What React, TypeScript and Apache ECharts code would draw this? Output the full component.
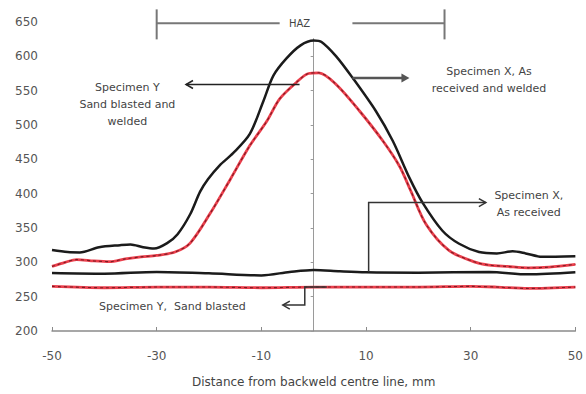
import React, { useEffect, useRef } from 'react';
import * as echarts from 'echarts';

// Axis ticks
const xTicks = [-50, -30, -10, 10, 30, 50];
const yMin = 200;
const yMax = 650;
const yStep = 50;

// Specimen X, As received and welded (black, upper)
const xWelded: [number, number][] = [
  [-50, 318], [-47, 315], [-44.7, 314.5], [-41, 322], [-37, 325], [-35, 326], [-32.6, 322],
  [-30.5, 320], [-28, 328], [-26, 341], [-23.6, 370], [-21.7, 403], [-20.2, 421], [-18, 441],
  [-15.4, 459], [-12.2, 487], [-9.6, 535], [-7.7, 572], [-5.2, 597], [-2.5, 616], [0, 623],
  [1.5, 621], [4.3, 600], [7.5, 568], [11.9, 520], [15.1, 477], [18.3, 423], [20.8, 387],
  [24.6, 346], [27.8, 327], [31.6, 315], [35, 313], [38, 316], [40.5, 313], [43.6, 308], [50, 309],
];

// Specimen Y, Sand blasted and welded (red dashed, upper)
const yWelded: [number, number][] = [
  [-50, 294], [-47.5, 300], [-45.3, 304], [-42, 302], [-39, 301], [-36, 305], [-33, 308],
  [-30, 310], [-26.5, 315], [-23.6, 328], [-19.8, 371], [-16, 420], [-12.2, 470], [-9, 505],
  [-6.5, 538], [-3.3, 562], [-1, 575], [1, 576], [4.3, 559], [8.8, 520], [13.2, 477],
  [16.4, 440], [18.5, 405], [21.5, 355], [25.9, 317], [31, 300], [33.5, 296], [37, 294],
  [41, 292], [45, 293], [50, 297],
];

// Specimen X, As received (black, lower)
const xReceived: [number, number][] = [
  [-50, 284.5], [-40, 283.5], [-30, 286], [-20, 284], [-10, 281], [-4.6, 286], [0, 289],
  [5, 287], [10, 285.5], [20, 285], [33.5, 286], [41, 282.5], [50, 285.5],
];

// Specimen Y, Sand blasted (red dashed, lower)
const yBlasted: [number, number][] = [
  [-50, 265], [-40, 263], [-30, 264], [-20, 264], [-10, 263], [0, 264], [10, 264],
  [20, 264], [30, 265], [35, 264], [41, 262], [50, 264],
];

const FONT = '"DejaVu Sans", sans-serif';

export default function App() {
  const ref = useRef<HTMLDivElement>(null);

  useEffect(() => {
    if (!ref.current) return;
    const chart = echarts.init(ref.current, null, { renderer: 'svg' });

    const black = (name: string, data: [number, number][]) => ({
      name, type: 'line', data, smooth: 0.3, symbol: 'none',
      lineStyle: { color: '#1b1b1b', width: 2.5 }, z: 3,
    });
    const redBase = (name: string, data: [number, number][]) => ({
      name, type: 'line', data, smooth: 0.3, symbol: 'none',
      lineStyle: { color: '#ea3f4c', width: 2.8 }, z: 2,
    });
    const redDash = (name: string, data: [number, number][]) => ({
      name, type: 'line', data, smooth: 0.3, symbol: 'none',
      lineStyle: { color: '#7d1a22', width: 1.1, type: [3, 3] }, z: 4,
    });

    const option: any = {
      animation: false,
      grid: { left: 52, right: 10, top: 22, bottom: 63 },
      xAxis: {
        type: 'value', min: -50, max: 50,
        axisLine: { onZero: false, lineStyle: { color: '#8a8a8a', width: 1.5 } },
        axisTick: { inside: true, length: 4, customValues: xTicks, lineStyle: { color: '#8a8a8a' } },
        axisLabel: { customValues: xTicks, color: '#555', fontSize: 12, fontFamily: FONT, margin: 19 },
        splitLine: { show: false },
        name: 'Distance from backweld centre line, mm',
        nameLocation: 'middle', nameGap: 45,
        nameTextStyle: { color: '#444', fontSize: 12, fontFamily: FONT },
      },
      yAxis: [
        {
          type: 'value', min: yMin, max: yMax, interval: yStep,
          axisLine: { show: false, onZero: false },
          axisTick: { show: false },
          axisLabel: { color: '#555', fontSize: 12, fontFamily: FONT, margin: 14 },
          splitLine: { show: false },
        },
        {
          type: 'value', min: yMin, max: yMax, interval: yStep, position: 'left',
          axisLine: { show: true, onZero: true, lineStyle: { color: '#9a9a9a', width: 1 } },
          axisTick: { show: true, length: 3, lineStyle: { color: '#9a9a9a' } },
          axisLabel: { show: false },
          splitLine: { show: false },
        },
      ],
      series: [
        black('Specimen X, As received and welded', xWelded),
        redBase('Specimen Y, Sand blasted and welded', yWelded),
        redDash('Specimen Y, Sand blasted and welded ', yWelded),
        black('Specimen X, As received', xReceived),
        redBase('Specimen Y, Sand blasted', yBlasted),
        redDash('Specimen Y, Sand blasted ', yBlasted),
      ],
    };
    chart.setOption(option);

    const p = (x: number, v: number) => chart.convertToPixel({ gridIndex: 0 }, [x, v]) as number[];
    const els: any[] = [];
    const line = (a: number[], b: number[], color: string, width: number) =>
      els.push({ type: 'line', z: 100, shape: { x1: a[0], y1: a[1], x2: b[0], y2: b[1] }, style: { stroke: color, lineWidth: width } });
    const poly = (pts: number[][], color: string, width: number) =>
      els.push({ type: 'polyline', z: 100, shape: { points: pts }, style: { stroke: color, lineWidth: width, fill: null } });
    const chevron = (h: number[], dir: number, color: string, width: number) =>
      poly([[h[0] - dir * 7, h[1] - 4], h, [h[0] - dir * 7, h[1] + 4]], color, width);
    const text = (t: string, c: number[], size = 11) =>
      els.push({ type: 'text', z: 101, x: c[0], y: c[1], style: { text: t, fill: '#444', fontSize: size, fontFamily: FONT, align: 'center', verticalAlign: 'middle', lineHeight: 17 } });

    // HAZ bracket
    const hazL = p(-30, 648), hazR = p(25, 648);
    const gapL = p(-6.5, 648), gapR = p(7.4, 648);
    els.push({ type: 'rect', z: 99, shape: { x: gapL[0], y: hazL[1] - 14, width: gapR[0] - gapL[0], height: 29 }, style: { fill: '#fff' } });
    line([hazL[0], hazL[1] - 14], [hazL[0], hazL[1] + 16], '#777', 2);
    line([hazR[0], hazR[1] - 14], [hazR[0], hazR[1] + 16], '#777', 2);
    line(hazL, gapL, '#777', 2);
    line(gapR, hazR, '#777', 2);
    text('HAZ', p(-2.7, 648), 10);

    // Specimen Y, sand blasted and welded
    const a1s = p(-2.7, 559), a1e = p(-24.4, 559);
    line(a1s, a1e, '#222', 1.5);
    chevron(a1e, -1, '#222', 1.5);
    text('Specimen Y\nSand blasted and\nwelded', p(-35.6, 530));

    // Specimen X, as received and welded
    const a2s = p(7.4, 568.5), a2e = p(18.3, 568.5);
    line(a2s, [a2e[0] - 6, a2e[1]], '#555', 2.5);
    els.push({ type: 'polygon', z: 100, shape: { points: [[a2e[0] - 8, a2e[1] - 4.5], a2e, [a2e[0] - 8, a2e[1] + 4.5]] }, style: { fill: '#555' } });
    text('Specimen X, As\nreceived and welded', p(33.5, 565));

    // Specimen X, as received
    const b1 = p(10.5, 286), b2 = p(10.5, 387), b3 = p(32.9, 387);
    poly([b1, b2, b3], '#333', 1.5);
    chevron(b3, 1, '#333', 1.5);
    text('Specimen X,\nAs received', p(41.1, 385.5));

    // Specimen Y, sand blasted
    const c1 = p(2.5, 264), c2 = p(-1.7, 264), c3 = p(-1.7, 237.7), c4 = p(-5.9, 237.7);
    poly([c1, c2, c3, c4], '#333', 1.5);
    chevron(c4, -1, '#333', 1.5);
    text('Specimen Y,  Sand blasted', p(-27, 236));

    chart.setOption({ graphic: { elements: els } });

    return () => chart.dispose();
  }, []);

  return <div ref={ref} style={{ position: 'fixed', left: 0, top: 0, width: 586, height: 394, background: '#fff' }} />;
}
